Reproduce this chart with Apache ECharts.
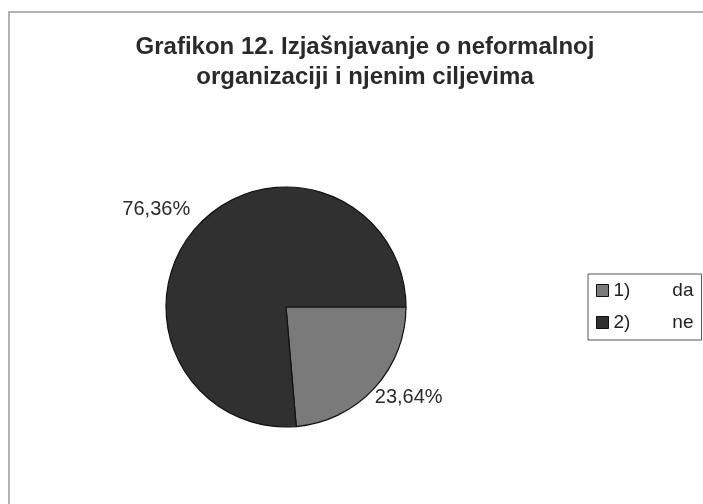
<!DOCTYPE html>
<html>
<head>
<meta charset="utf-8">
<script src="https://cdn.jsdelivr.net/npm/echarts@6/dist/echarts.min.js"></script>
<style>
html,body{margin:0;padding:0;background:#fff;}
#c{width:703px;height:504px;}
</style>
</head>
<body>
<div id="c"></div>
<script>
const titleText = "Grafikon 12. Izjašnjavanje o neformalnoj\norganizaciji i njenim ciljevima";
const categories = ["da", "ne"];
const markers = ["1)", "2)"];
const values = [23.64, 76.36];
const labelsText = ["23,64%", "76,36%"];
const colors = ["#7a7a7a", "#303030"];

const chart = echarts.init(document.getElementById('c'));
const data = categories.map((c, i) => ({
  name: c, value: values[i],
  itemStyle: { color: colors[i] },
  label: { formatter: labelsText[i] }
}));
const labelShift = [[-9, 5], [2, -12]];
chart.setOption({
  backgroundColor: '#ffffff',
  animation: false,
  title: {
    text: titleText,
    left: 360, top: 27, textAlign: 'center',
    textStyle: { fontFamily: 'Liberation Sans', fontWeight: 'bold', fontSize: 24, color: '#2a2a2a', lineHeight: 30 }
  },
  graphic: [{
    type: 'rect', shape: { x: 9, y: 12, width: 720, height: 520 },
    style: { fill: 'none', stroke: '#9a9a9a', lineWidth: 1.5 }, z: -1
  }],
  legend: {
    orient: 'vertical',
    left: 588, top: 274,
    padding: [7, 8, 8, 8],
    itemGap: 13,
    itemTextGap: 3,
    itemWidth: 12, itemHeight: 12,
    borderColor: '#555', borderWidth: 1,
    icon: 'rect',
    itemStyle: { borderColor: '#111', borderWidth: 1 },
    formatter: function (name) {
      const i = categories.indexOf(name);
      return '{m|' + markers[i] + '}{t|' + name + '}';
    },
    textStyle: {
      fontFamily: 'Liberation Sans', fontSize: 19, color: '#222',
      rich: {
        m: { fontFamily: 'Liberation Sans', fontSize: 19, color: '#222', width: 52, lineHeight: 22 },
        t: { fontFamily: 'Liberation Sans', fontSize: 19, color: '#222', width: 28, align: 'right', lineHeight: 22 }
      }
    },
    data: categories
  },
  series: [{
    type: 'pie',
    center: [286, 307],
    radius: 120,
    startAngle: 0,
    clockwise: true,
    data: data,
    itemStyle: { borderColor: '#111', borderWidth: 1.2 },
    label: {
      show: true, position: 'outside',
      fontFamily: 'Liberation Sans', fontSize: 20, color: '#2a2a2a'
    },
    labelLine: { show: false, length: 6, length2: 0 },
    labelLayout: function (p) {
      const s = labelShift[p.dataIndex];
      return { dx: s[0], dy: s[1] };
    },
    emphasis: { disabled: true }
  }]
});
</script>
</body>
</html>
